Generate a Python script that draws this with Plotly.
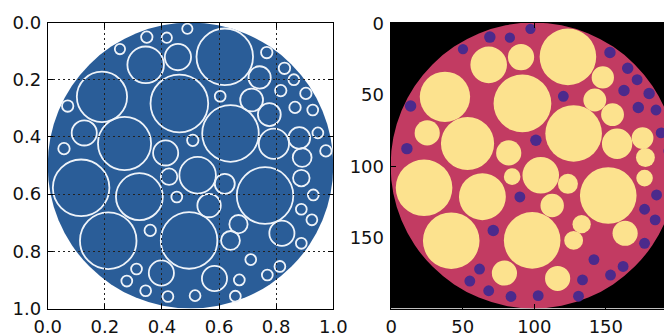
import plotly.graph_objects as go

# circle packing in unit coordinates (centre x, centre y, radius)
cx = [0.489, 0.347, 0.417, 0.253, 0.343, 0.456, 0.620, 0.767, 0.829, 0.862,
      0.742, 0.816, 0.904, 0.866, 0.928, 0.714, 0.776, 0.604, 0.461, 0.190,
      0.070, 0.640, 0.792, 0.881, 0.946, 0.974, 0.891, 0.508, 0.413, 0.269,
      0.128, 0.057, 0.117, 0.321, 0.212, 0.495, 0.761, 0.525, 0.425, 0.452,
      0.620, 0.565, 0.668, 0.640, 0.359, 0.820, 0.888, 0.930, 0.888, 0.925,
      0.888, 0.711, 0.813, 0.769, 0.671, 0.657, 0.584, 0.516, 0.421, 0.343,
      0.398, 0.311, 0.277]
cy = [0.022, 0.051, 0.053, 0.093, 0.148, 0.121, 0.120, 0.105, 0.160, 0.200,
      0.192, 0.238, 0.248, 0.297, 0.306, 0.271, 0.322, 0.258, 0.283, 0.260,
      0.292, 0.388, 0.424, 0.404, 0.386, 0.449, 0.472, 0.412, 0.456, 0.423,
      0.386, 0.441, 0.578, 0.609, 0.763, 0.762, 0.605, 0.534, 0.539, 0.610,
      0.564, 0.640, 0.705, 0.762, 0.727, 0.737, 0.544, 0.603, 0.653, 0.690,
      0.772, 0.829, 0.853, 0.883, 0.900, 0.957, 0.895, 0.955, 0.958, 0.938,
      0.876, 0.862, 0.904]
cr = [0.018, 0.020, 0.018, 0.018, 0.064, 0.046, 0.099, 0.020, 0.020, 0.019,
      0.039, 0.020, 0.020, 0.020, 0.019, 0.040, 0.040, 0.019, 0.101, 0.088,
      0.020, 0.099, 0.053, 0.038, 0.019, 0.020, 0.033, 0.020, 0.044, 0.093,
      0.044, 0.020, 0.099, 0.082, 0.099, 0.099, 0.099, 0.064, 0.029, 0.019,
      0.035, 0.041, 0.032, 0.033, 0.020, 0.044, 0.029, 0.019, 0.019, 0.019,
      0.019, 0.019, 0.019, 0.019, 0.019, 0.019, 0.044, 0.019, 0.019, 0.019,
      0.044, 0.019, 0.019]

domain_c, domain_r = 0.5, 0.5
img_n = 200
small_r = 0.025
unit_ticks = [0.0, 0.2, 0.4, 0.6, 0.8, 1.0]
img_ticks = [0, 50, 100, 150]

BLUE = "#2a5d98"
MAGENTA = "#c23b62"
YELLOW = "#fce28e"
PURPLE = "#4b2a8c"

# the page body adds an 8px margin; size the figure so it fills the 672x333 window
OFF = 8
W, H = 672 - OFF, 333 - OFF
fig = go.Figure()
fig.add_trace(go.Scatter(x=[None], y=[None], xaxis="x", yaxis="y", showlegend=False))
fig.add_trace(go.Scatter(x=[None], y=[None], xaxis="x2", yaxis="y2", showlegend=False))

shapes = []
# left: blue domain with white circle outlines
shapes.append(dict(type="circle", xref="x", yref="y", layer="below",
                   x0=domain_c - domain_r, x1=domain_c + domain_r,
                   y0=domain_c - domain_r, y1=domain_c + domain_r,
                   fillcolor=BLUE, line=dict(width=0)))
for x, y, r in zip(cx, cy, cr):
    shapes.append(dict(type="circle", xref="x", yref="y", layer="below",
                       x0=x - r, x1=x + r, y0=y - r, y1=y + r,
                       fillcolor="rgba(0,0,0,0)", line=dict(color="#eef3f9", width=1.8)))

# right: image representation
def px(u):
    return u * img_n - 0.5

shapes.append(dict(type="rect", xref="x2", yref="y2", layer="below",
                   x0=-0.5, x1=img_n - 0.5, y0=-0.5, y1=img_n - 0.5,
                   fillcolor="black", line=dict(width=0)))
shapes.append(dict(type="circle", xref="x2", yref="y2", layer="below",
                   x0=px(domain_c - domain_r), x1=px(domain_c + domain_r),
                   y0=px(domain_c - domain_r), y1=px(domain_c + domain_r),
                   fillcolor=MAGENTA, line=dict(width=0)))
for x, y, r in zip(cx, cy, cr):
    col = PURPLE if r < small_r else YELLOW
    shapes.append(dict(type="circle", xref="x2", yref="y2", layer="below",
                       x0=px(x) - r * img_n, x1=px(x) + r * img_n,
                       y0=px(y) - r * img_n, y1=px(y) + r * img_n,
                       fillcolor=col, line=dict(width=0)))

font = dict(family="DejaVu Sans", size=18, color="#111")
left_x0, left_x1 = 47.7 - OFF, 333.3 - OFF
top, bottom = 22.5 - OFF, 308.5 - OFF
right_x0 = 390.6 - OFF
scale2 = (bottom - top) / img_n
x2_max = -0.5 + (W - right_x0) / scale2

axis_common = dict(showline=True, mirror="allticks", linecolor="black", linewidth=1,
                   ticks="inside", ticklen=5, tickcolor="black", tickfont=font,
                   zeroline=False, automargin=False, ticklabelstandoff=2)
grid = dict(showgrid=True, gridcolor="#222", griddash="2px,3px", gridwidth=1)

fig.update_layout(
    width=W, height=H, margin=dict(l=0, r=0, t=0, b=0, autoexpand=False),
    paper_bgcolor="white", plot_bgcolor="white", showlegend=False,
    shapes=shapes,
    xaxis=dict(domain=[left_x0 / W, left_x1 / W], range=[0, 1], tickvals=unit_ticks,
               tickformat=".1f", anchor="y", **grid, **axis_common),
    yaxis=dict(domain=[1 - bottom / H, 1 - top / H], range=[1, 0], tickvals=unit_ticks,
               tickformat=".1f", anchor="x", **grid, **axis_common),
    xaxis2=dict(domain=[right_x0 / W, 1.0], range=[-0.5, x2_max], tickvals=img_ticks,
                showgrid=False, anchor="y2", **axis_common),
    yaxis2=dict(domain=[1 - bottom / H, 1 - top / H], range=[img_n - 0.5, -0.5],
                tickvals=img_ticks, showgrid=False, anchor="x2", **axis_common),
)

fig.write_html("out.html")
